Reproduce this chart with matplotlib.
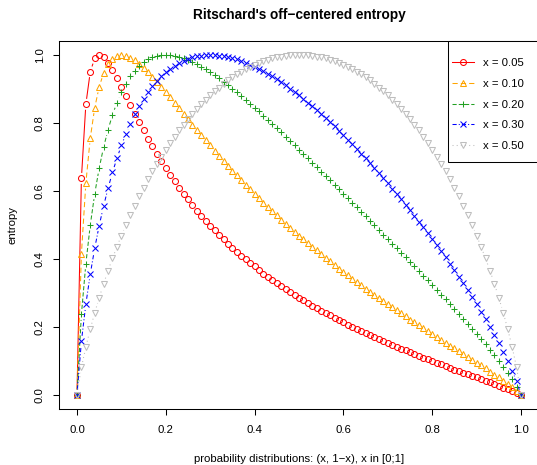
import numpy as np
import matplotlib
matplotlib.use('Agg')
import matplotlib.pyplot as plt
from matplotlib.lines import Line2D
from matplotlib.patches import Rectangle

plt.rcParams['font.family'] = ['Liberation Sans', 'DejaVu Sans']

# probability grid x = 0, 0.01, ..., 1
p = [i / 100 for i in range(101)]

# off-centered entropy values (x1000) for each reference point x
e05 = [0,637,855,951,990,1000,993,977,956,932,
       906,880,853,827,802,778,754,731,709,687,
       667,647,628,609,592,575,558,542,527,512,
       498,484,471,458,445,433,421,410,399,388,
       378,367,357,348,338,329,320,311,303,295,
       286,278,271,263,255,248,241,234,227,220,
       214,207,201,194,188,182,176,170,164,159,
       153,147,142,136,131,126,120,115,110,105,
       100,95,90,85,80,75,71,66,61,56,
       52,47,42,37,32,27,22,17,12,7,0]
e10 = [0,414,623,756,845,906,947,973,989,998,
       1000,998,992,984,974,962,949,936,921,906,
       890,875,859,843,827,811,795,780,764,749,
       734,718,704,689,674,660,646,632,618,605,
       592,579,566,553,540,528,516,504,492,480,
       469,458,446,435,425,414,403,393,382,372,
       362,352,342,332,323,313,304,294,285,276,
       267,258,249,240,231,222,214,205,196,188,
       179,171,162,154,145,137,129,120,112,103,
       95,87,78,69,60,52,42,33,23,13,0]
e20 = [0,237,386,500,592,667,729,780,824,860,
       890,916,937,954,968,978,987,993,997,999,
       1000,999,997,994,990,985,979,973,966,958,
       949,941,931,922,912,901,890,880,868,857,
       845,834,822,810,797,785,773,760,747,735,
       722,709,696,683,670,657,644,631,618,605,
       592,578,565,552,539,525,512,499,485,472,
       459,445,432,418,405,391,378,364,350,337,
       323,309,295,281,267,253,238,224,209,194,
       179,164,149,133,117,100,83,65,46,25,0]
e30 = [0,158,267,356,432,498,556,608,655,696,
       734,767,797,825,849,871,890,908,924,937,
       949,960,969,977,983,989,993,996,998,1000,
       1000,1000,998,997,994,991,987,982,977,972,
       966,959,952,945,937,928,920,911,901,891,
       881,871,860,849,838,826,814,802,790,777,
       764,751,738,724,710,696,682,667,653,638,
       623,607,592,576,560,544,527,510,493,476,
       459,441,423,405,386,367,348,328,308,288,
       267,245,223,201,177,153,127,101,72,40,0]
e50 = [0,81,141,194,242,286,327,366,402,436,
       469,500,529,557,584,610,634,658,680,701,
       722,741,760,778,795,811,827,841,855,869,
       881,893,904,915,925,934,943,951,958,965,
       971,977,981,986,990,993,995,997,999,1000,
       1000,1000,999,997,995,993,990,986,981,977,
       971,965,958,951,943,934,925,915,904,893,
       881,869,855,841,827,811,795,778,760,741,
       722,701,680,658,634,610,584,557,529,500,
       469,436,402,366,327,286,242,194,141,81,0]

labels = ['x = 0.05', 'x = 0.10', 'x = 0.20', 'x = 0.30', 'x = 0.50']
xticks = [0, 0.2, 0.4, 0.6, 0.8, 1.0]
xticklabels = ['0.0', '0.2', '0.4', '0.6', '0.8', '1.0']
yticks = [0, 0.2, 0.4, 0.6, 0.8, 1.0]
yticklabels = ['0.0', '0.2', '0.4', '0.6', '0.8', '1.0']

series = [np.array(e, dtype=float) / 1000 for e in (e05, e10, e20, e30, e50)]
px = np.array(p)

W, H = 537, 465
fig = plt.figure(figsize=(W / 100, H / 100), dpi=100)
x0, x1 = 59.2, 538.8
ytop, ybot = 41.4, 408.6
ax = fig.add_axes([x0 / W, 1 - ybot / H, (x1 - x0) / W, (ybot - ytop) / H])
ax.set_xlim(-0.04, 1.04)
ax.set_ylim(-0.04, 1.04)
fs = 8.2

colors = ['#FF0000', '#FFA500', '#22A022', '#0000FF', '#BEBEBE']
markers = ['o', '^', '+', 'x', 'v']
msz = [4.3, 4.9, 4.9, 3.9, 4.9]
styles = ['-', (0, (5, 3)), (0, (4, 2)), (0, (4, 2, 1, 2)), (0, (1, 3))]
lw = 0.75
gap = 5.5  # px, gap around points as in R type="b"

trans = ax.transData
inv = trans.inverted()
for v, c, m, ls, ms in zip(series, colors, markers, styles, msz):
    pts = trans.transform(np.column_stack([px, v]))
    for a, b in zip(pts[:-1], pts[1:]):
        d = b - a
        dist = np.hypot(*d)
        if dist > 2 * gap:
            f = gap / dist
            s = inv.transform(np.array([a + f * d, b - f * d]))
            ax.plot(s[:, 0], s[:, 1], color=c, ls=ls, lw=lw,
                    solid_capstyle='butt', dash_capstyle='butt')
    ax.plot(px, v, ls='none', marker=m, ms=ms, mfc='none', mec=c, mew=lw)

# legend box (R style: flush to the top-right corner of the plot region)
AW, AH = x1 - x0, ybot - ytop
bx = (448 - x0) / AW
by = 1 - (162 - ytop) / AH
ax.add_patch(Rectangle((bx, by), 1.2 - bx, 1 - by, transform=ax.transAxes,
                       facecolor='white', edgecolor='black', lw=0.75, zorder=4,
                       clip_on=False))
handles = [Line2D([], [], color=c, ls=ls, lw=lw, marker=m, ms=ms, mfc='none', mec=c, mew=lw)
           for c, m, ls, ms in zip(colors, markers, styles, msz)]
leg = ax.legend(handles, labels, loc='upper left',
                bbox_to_anchor=((452 - x0) / AW, 1 - (58 - ytop) / AH),
                borderaxespad=0, borderpad=0, frameon=False, fontsize=fs,
                handlelength=1.9, handletextpad=0.8, labelspacing=0.95, numpoints=1)
leg.set_zorder(5)

ax.set_xticks(xticks)
ax.set_yticks(yticks)
ax.set_xticklabels(xticklabels)
ax.set_yticklabels(yticklabels, rotation=90, va='center')
ax.tick_params(direction='out', length=4.3, width=0.75, labelsize=fs, color='black')
ax.tick_params(axis='x', pad=7.3)
ax.tick_params(axis='y', pad=6.0)
for s in ax.spines.values():
    s.set_linewidth(0.75)

fig.text(299 / W, 1 - 15 / H, "Ritschard's off\u2212centered entropy", ha='center', va='center',
         fontsize=fs * 1.2, fontweight='bold')
fig.text(299 / W, 1 - 459 / H, "probability distributions: (x, 1\u2212x), x in [0;1]",
         ha='center', va='center', fontsize=fs)
fig.text(13 / W, 1 - 225 / H, "entropy", ha='center', va='center', rotation=90, fontsize=fs)

fig.savefig('out.png')
